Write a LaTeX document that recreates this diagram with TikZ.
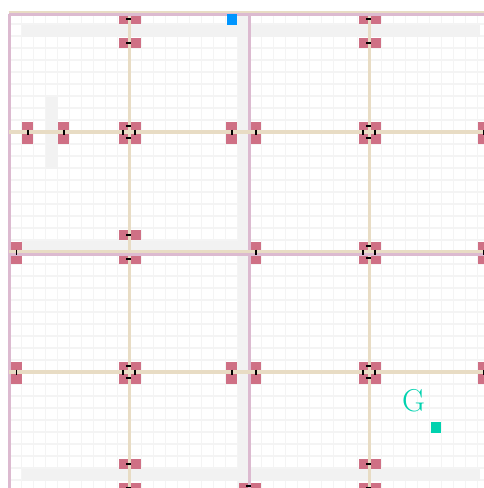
\documentclass[tikz,border=0pt]{standalone}
\usepackage{xcolor}
\definecolor{pad}{RGB}{207,112,133}
\definecolor{road}{RGB}{232,220,196}
\definecolor{rail}{RGB}{220,186,208}
\definecolor{band}{RGB}{242,242,242}
\definecolor{cell}{RGB}{244,244,244}
\definecolor{start}{RGB}{0,150,255}
\definecolor{goal}{RGB}{0,210,175}
\begin{document}
\begin{tikzpicture}[
      x=0.02cm, y=-0.02cm,
      cellline/.style={draw=cell, line width=0.03cm},
      bandbox/.style={fill=band},
      roadline/.style={draw=road, line width=0.07cm},
      railline/.style={draw=rail, line width=0.07cm},
      padbox/.style={fill=pad, draw=none},
      tick/.style={draw=black, line width=0.03cm},
      marker/.style={rectangle, inner sep=0, minimum width=0.22cm, minimum height=0.22cm}
    ]
      \useasboundingbox (0,0) rectangle (484,488);
      \fill[white] (0,0) rectangle (484,488);
      % floor cells
      \foreach \k in {0,...,39} {
        \draw[cellline] (9.7+12*\k,12) -- (9.7+12*\k,488);
        \draw[cellline] (9,12+12*\k) -- (484,12+12*\k);
      }
      \fill[bandbox] (22,24.5) rectangle (480,37);
      \fill[bandbox] (22,468.5) rectangle (480,481);
      \fill[bandbox] (22,241) rectangle (249,253);
      \fill[bandbox] (238,14) rectangle (250,488);
      \fill[bandbox] (46,97) rectangle (58,169);
      % gates on the vertical roads
      \foreach \px/\py in {129/19,129/43,369/19,369/43,129/235,129/259,129/464,129/488,369/464,369/488,249/488} {
        \fill[padbox] (\px-10,\py-5) rectangle (\px,\py+5);
        \fill[padbox] (\px+1.5,\py-5) rectangle (\px+12,\py+5);
      }
      % gates on the horizontal roads
      \foreach \px/\py in {28/132,64/132,232/132,256/132,484/132,16.5/252,256/252,484/252,16.5/372,232/372,256/372,484/372} {
        \fill[padbox] (\px-5.5,\py-10) rectangle (\px+5.5,\py-2);
        \fill[padbox] (\px-5.5,\py+2) rectangle (\px+5.5,\py+12);
      }
      % crossings
      \foreach \px/\py in {129/132,369/132,129/372,369/372,369/252} {
        \fill[padbox] (\px-10,\py-10) rectangle (\px,\py-2);
        \fill[padbox] (\px+1.5,\py-10) rectangle (\px+12,\py-2);
        \fill[padbox] (\px-10,\py+2) rectangle (\px,\py+12);
        \fill[padbox] (\px+1.5,\py+2) rectangle (\px+12,\py+12);
      }
      % roads and rails
      \draw[railline] (9.7,14) -- (9.7,488);
      \draw[railline, line width=0.08cm] (249.5,14) -- (249.5,488);
      \foreach \px in {129.5,369.5} \draw[roadline] (\px,12) -- (\px,488);
      \foreach \py in {132,252,372} \draw[roadline] (9,\py) -- (484,\py);
      \draw[roadline, line width=0.05cm] (9,12) -- (484,12);
      \draw[railline, line width=0.05cm] (9,14.5) -- (484,14.5);
      \draw[railline, line width=0.05cm] (9,254.5) -- (484,254.5);
      % ticks
      \foreach \px/\py in {129/19,129/43,369/19,369/43,129/235,129/259,129/464,129/488,369/464,369/488,249/486,
                           129/126,129/138,369/126,369/138,129/366,129/378,369/366,369/378,369/246,369/258}
        \draw[tick] (\px-2.5,\py) -- (\px+2.5,\py);
      \foreach \px/\py in {28/132,64/132,232/132,256/132,484/132,16.5/252,256/252,484/252,16.5/372,232/372,256/372,484/372,
                           123/132,135/132,363/132,375/132,123/372,135/372,363/372,375/372,363/252,375/252}
        \draw[tick] (\px,\py-2.5) -- (\px,\py+2.5);
      % start and goal
      \node[marker, fill=start] (S) at (232,19) {};
      \node[marker, fill=goal] (T) at (436,427.5) {};
      \node[font=\fontsize{18}{20}\selectfont, text=goal, inner sep=0] (G) at (413.5,401) {G};
    \end{tikzpicture}
\end{document}
